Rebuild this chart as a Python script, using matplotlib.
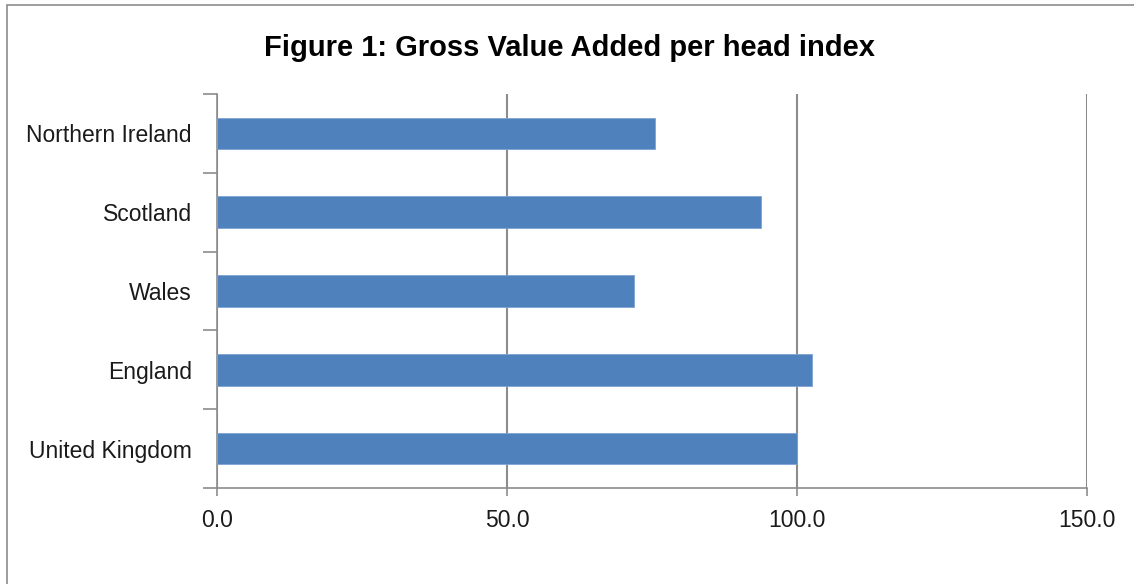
import matplotlib.pyplot as plt
from matplotlib.patches import Rectangle

regions = ['United Kingdom', 'England', 'Wales', 'Scotland', 'Northern Ireland']
gva_index = [100.0, 102.6, 71.9, 93.8, 75.5]
xticks = [0, 50, 100, 150]

plt.rcParams['font.family'] = ['Liberation Sans', 'DejaVu Sans']

fig = plt.figure(figsize=(11.34, 5.84), dpi=100)
ax = fig.add_axes([217 / 1134, 1 - 488 / 584, (1087 - 217) / 1134, (488 - 94) / 584])

# outer chart border
fig.patches.append(Rectangle((7 / 1134, -0.01), 1.1, 1 - 5 / 584 + 0.01, transform=fig.transFigure,
                             fill=False, edgecolor='#8c8c8c', linewidth=1.2))

pos = range(len(regions))
ax.barh(pos, gva_index, height=0.4, color='#4f81bd', edgecolor='#7ea3d4', linewidth=0.6, zorder=3)

ax.set_xlim(0, 150)
ax.set_ylim(-0.5, len(regions) - 0.5)
ax.set_xticks(xticks)
ax.set_xticklabels([f'{v:.1f}' for v in xticks], fontsize=16.5, color='#1a1a1a')
ax.set_yticks(list(pos))
ax.set_yticklabels(regions, fontsize=16.5, color='#1a1a1a')
ax.tick_params(axis='y', length=0, pad=18)
ax.tick_params(axis='x', length=6, width=1.2, color='#8c8c8c', pad=9)

# y boundary ticks
ax.set_yticks([i - 0.5 for i in range(len(regions) + 1)], minor=True)
ax.tick_params(axis='y', which='minor', length=10, width=1.2, color='#8c8c8c')

ax.grid(axis='x', color='#8c8c8c', linewidth=1.5, zorder=0)
for s in ['top', 'right']:
    ax.spines[s].set_visible(False)
for s in ['left', 'bottom']:
    ax.spines[s].set_color('#8c8c8c')
    ax.spines[s].set_linewidth(1.2)

fig.text(570 / 1134, 1 - 48 / 584, 'Figure 1: Gross Value Added per head index',
         ha='center', va='center', fontsize=21, fontweight='bold')

fig.savefig('out.png', dpi=100)
